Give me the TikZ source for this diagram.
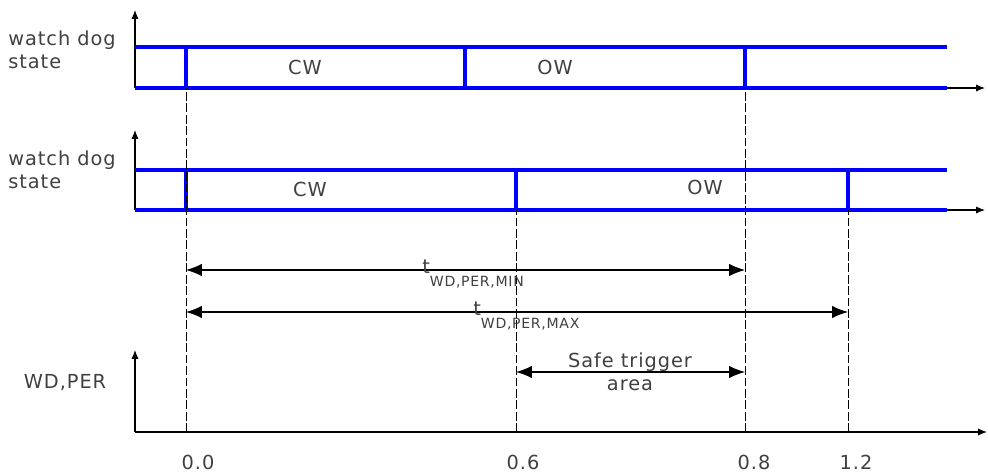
\documentclass[tikz,border=0pt]{standalone}
\usepackage{fontspec}
\setmainfont[LetterSpace=5]{DejaVu Sans}
\usetikzlibrary{arrows.meta}

\tikzset{
  axis/.style={line width=0.6pt, -{Latex[length=5pt,width=4pt]}},
  wdline/.style={line width=2.3pt, blue},
  guide/.style={line width=0.5pt, dash pattern=on 5pt off 1.5pt},
  span/.style={line width=0.6pt, {Latex[length=9pt,width=7pt]}-{Latex[length=9pt,width=7pt]}},
  lbl/.style={inner sep=0pt, text=black!75, font=\fontsize{11}{13}\selectfont},
}
\newcommand{\wdsub}[1]{\raisebox{-1.2ex}{\fontsize{8}{9}\selectfont #1}}

\begin{document}
\begin{tikzpicture}
  \useasboundingbox (0,0) rectangle (19.76,9.5);

  % time marks on the lower axis
  \coordinate (t0) at (3.72,0.86);
  \coordinate (t6) at (10.32,0.86);
  \coordinate (t8) at (14.9,0.86);
  \coordinate (t12) at (16.96,0.86);
  \coordinate (t10) at (9.3,0.86);

  % panel levels
  \coordinate (lo1) at (2.7,7.74);
  \coordinate (hi1) at (2.7,8.56);
  \coordinate (lo2) at (2.7,5.3);
  \coordinate (hi2) at (2.7,6.1);
  \coordinate (lo3) at (2.7,0.86);
  \coordinate (mn) at (0,4.1);
  \coordinate (mx) at (0,3.26);
  \coordinate (sf) at (0,2.06);

  % First plot - watch dog state, shortest period
  \draw[axis] (lo1) -- (2.7,9.3);
  \draw[axis] (lo1) -- (19.7,7.74);
  \draw[wdline] (hi1) -- (18.94,8.56);
  \draw[wdline] (lo1) -- (18.94,7.74);
  \draw[wdline] (t0 |- lo1) -- (t0 |- hi1);
  \draw[wdline] (t10 |- lo1) -- (t10 |- hi1);
  \draw[wdline] (t8 |- lo1) -- (t8 |- hi1);
  \node[lbl, anchor=west, align=left] (st1) at (0.16,8.5) {watch dog\\state};
  \node[lbl] (cw1) at (6.1,8.15) {CW};
  \node[lbl] (ow1) at (11.1,8.15) {OW};

  % Second plot - watch dog state, longest period
  \draw[axis] (lo2) -- (2.7,6.9);
  \draw[axis] (lo2) -- (19.7,5.3);
  \draw[wdline] (hi2) -- (18.94,6.1);
  \draw[wdline] (lo2) -- (18.94,5.3);
  \draw[wdline] (t0 |- lo2) -- (t0 |- hi2);
  \draw[wdline] (t6 |- lo2) -- (t6 |- hi2);
  \draw[wdline] (t12 |- lo2) -- (t12 |- hi2);
  \node[lbl, anchor=west, align=left] (st2) at (0.16,6.1) {watch dog\\state};
  \node[lbl] (cw2) at (6.2,5.72) {CW};
  \node[lbl] (ow2) at (14.1,5.76) {OW};

  % dashed guides down to the time axis
  \draw[guide] (t0) -- (t0 |- lo1);
  \draw[guide] (t8) -- (t8 |- lo1);
  \draw[guide] (t6) -- (t6 |- lo2);
  \draw[guide] (t12) -- (t12 |- lo2);

  % period limits
  \draw[span] (t0 |- mn) -- (t8 |- mn);
  \node[lbl, anchor=base west] (tmin) at (8.44,4.02) {t\wdsub{WD,PER,MIN}};
  \draw[span] (t0 |- mx) -- (t12 |- mx);
  \node[lbl, anchor=base west] (tmax) at (9.46,3.18) {t\wdsub{WD,PER,MAX}};

  % Third plot - trigger
  \draw[axis] (lo3) -- (2.7,2.5);
  \draw[axis] (lo3) -- (19.74,0.86);
  \node[lbl] (wd) at (1.3,1.84) {WD,PER};
  \draw[span] (t6 |- sf) -- (t8 |- sf);
  \node[lbl, align=center] (safe) at (12.6,2.06) {Safe trigger\\area};

  % time values
  \node[lbl, anchor=base] (l0) at (3.96,0.1) {0.0};
  \node[lbl, anchor=base] (l6) at (10.46,0.1) {0.6};
  \node[lbl, anchor=base] (l8) at (15.08,0.1) {0.8};
  \node[lbl, anchor=base] (l12) at (17.12,0.1) {1.2};
\end{tikzpicture}
\end{document}
